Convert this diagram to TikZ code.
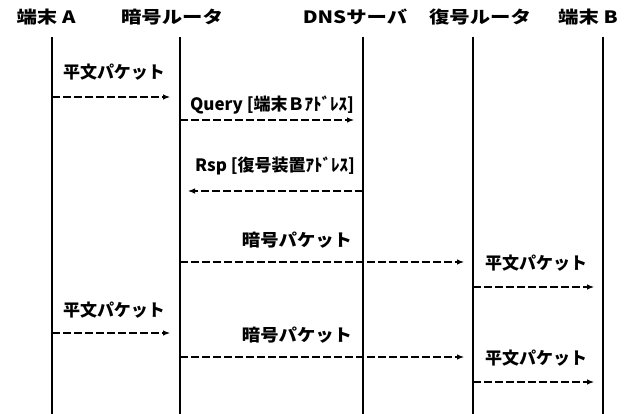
\documentclass[tikz,border=0pt]{standalone}
\usepackage{fontspec}
\usetikzlibrary{arrows.meta}
\newfontfamily\jp{Noto Sans CJK JP}
\newcommand\wideX[1]{\scalebox{1.2}[1]{#1}}
\begin{document}
\begin{tikzpicture}[x=1pt,y=-1pt,
  head/.style={font=\jp\bfseries\fontsize{17}{17}\selectfont, inner sep=0pt},
  lbl/.style={font=\jp\bfseries\fontsize{17}{17}\selectfont, inner sep=0pt},
  life/.style={line width=2.8pt},
  msg/.style={line width=1.1pt, dash pattern=on 8pt off 3pt, -{Latex[length=7pt,width=5.5pt]}}]
\useasboundingbox (0,0) rectangle (627,414);
% headers
\node[head] (hA) at (46,17) {\wideX{端末 A}};
\node[head] (hE) at (172,17) {\wideX{暗号ルータ}};
\node[head] (hD) at (355,17) {\wideX{DNSサーバ}};
\node[head] (hR) at (480,17) {\wideX{復号ルータ}};
\node[head] (hB) at (588,17) {\wideX{端末 B}};
% lifelines
\coordinate (tA) at (52,37);  \coordinate (bA) at (52,414);
\coordinate (tE) at (180,37); \coordinate (bE) at (180,414);
\coordinate (tD) at (363,37); \coordinate (bD) at (363,414);
\coordinate (tR) at (473,37); \coordinate (bR) at (473,414);
\coordinate (tB) at (603,37); \coordinate (bB) at (603,414);
\draw[life] (tA) -- (bA);
\draw[life] (tE) -- (bE);
\draw[life] (tD) -- (bD);
\draw[life] (tR) -- (bR);
\draw[life] (tB) -- (bB);
% message 1
\node[lbl] (l1) at (114,72) {平文パケット};
\coordinate (s1) at (52,97); \coordinate (e1) at (170,97);
\draw[msg] (s1) -- (e1);
% message 2
\node[lbl] (l2) at (272,105) {Query [端末Ｂｱﾄﾞﾚｽ]};
\coordinate (s2) at (180,120); \coordinate (e2) at (354,120);
\draw[msg] (s2) -- (e2);
% message 3
\node[lbl] (l3) at (275,166) {Rsp [復号装置ｱﾄﾞﾚｽ]};
\coordinate (s3) at (363,191); \coordinate (e3) at (188,191);
\draw[msg] (s3) -- (e3);
% message 4
\node[lbl] (l4) at (297,240) {\scalebox{1.08}[1]{暗号パケット}};
\coordinate (s4) at (180,262); \coordinate (e4) at (464,262);
\draw[msg] (s4) -- (e4);
% message 5
\node[lbl] (l5) at (536,263) {平文パケット};
\coordinate (s5) at (473,287); \coordinate (e5) at (594,287);
\draw[msg] (s5) -- (e5);
% message 6
\node[lbl] (l6) at (114,310) {平文パケット};
\coordinate (s6) at (52,333); \coordinate (e6) at (170,333);
\draw[msg] (s6) -- (e6);
% message 7
\node[lbl] (l7) at (297,335) {\scalebox{1.08}[1]{暗号パケット}};
\coordinate (s7) at (180,357); \coordinate (e7) at (464,357);
\draw[msg] (s7) -- (e7);
% message 8
\node[lbl] (l8) at (536,358) {平文パケット};
\coordinate (s8) at (473,382); \coordinate (e8) at (594,382);
\draw[msg] (s8) -- (e8);
\end{tikzpicture}
\end{document}
